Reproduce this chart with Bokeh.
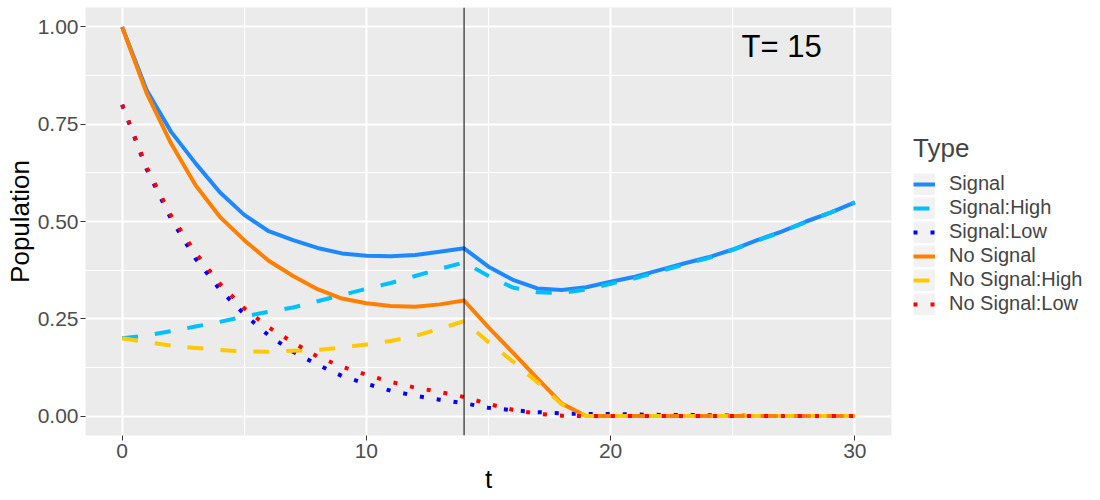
from bokeh.plotting import figure
from bokeh.models import Legend, LegendItem, Span, FixedTicker, Label
from bokeh.embed import file_html
from bokeh.resources import INLINE

# ---------------- data ----------------
t = list(range(31))

signal = [1.000, 0.838, 0.731, 0.650, 0.575, 0.517, 0.475, 0.452, 0.432, 0.418,
          0.412, 0.411, 0.414, 0.422, 0.431, 0.384, 0.350, 0.328, 0.324, 0.331,
          0.345, 0.358, 0.375, 0.392, 0.408, 0.428, 0.452, 0.474, 0.500, 0.523, 0.549]
signal_high = [0.200, 0.207, 0.218, 0.230, 0.242, 0.256, 0.268, 0.279, 0.295, 0.311,
               0.327, 0.342, 0.360, 0.378, 0.395, 0.360, 0.330, 0.318, 0.316, 0.325,
               0.340, 0.354, 0.372, 0.389, 0.406, 0.427, 0.451, 0.473, 0.499, 0.523, 0.549]
signal_low = [0.800, 0.635, 0.507, 0.405, 0.325, 0.262, 0.207, 0.165, 0.132, 0.103,
              0.083, 0.065, 0.052, 0.042, 0.033, 0.021, 0.015, 0.010, 0.007, 0.005,
              0.005, 0.004, 0.003, 0.003, 0.002, 0.001, 0.000, 0.000, 0.000, 0.000, 0.000]
no_signal = [1.000, 0.830, 0.701, 0.594, 0.512, 0.452, 0.399, 0.360, 0.326, 0.302,
             0.290, 0.283, 0.281, 0.287, 0.297, 0.228, 0.163, 0.097, 0.032, 0.000,
             0.000, 0.000, 0.000, 0.000, 0.000, 0.000, 0.000, 0.000, 0.000, 0.000, 0.000]
no_signal_high = [0.200, 0.190, 0.181, 0.175, 0.170, 0.166, 0.165, 0.168, 0.170, 0.176,
                  0.184, 0.193, 0.206, 0.224, 0.244, 0.190, 0.140, 0.087, 0.030, 0.000,
                  0.000, 0.000, 0.000, 0.000, 0.000, 0.000, 0.000, 0.000, 0.000, 0.000, 0.000]
no_signal_low = [0.800, 0.640, 0.515, 0.420, 0.340, 0.277, 0.228, 0.189, 0.153, 0.127,
                 0.106, 0.088, 0.073, 0.062, 0.049, 0.031, 0.016, 0.006, 0.001, 0.000,
                 0.000, 0.000, 0.000, 0.000, 0.000, 0.000, 0.000, 0.000, 0.000, 0.000, 0.000]

series_names = ["Signal", "Signal:High", "Signal:Low",
                "No Signal", "No Signal:High", "No Signal:Low"]
series_values = [signal, signal_high, signal_low, no_signal, no_signal_high, no_signal_low]
series_colors = ["#1E88FF", "#00BFFF", "#0000FF", "#FF8000", "#FFC800", "#FF0000"]
series_dash = ["solid", "16 17", "4 13", "solid", "16 17", "4 13"]

x_ticks = [0, 10, 20, 30]
x_tick_labels = ["0", "10", "20", "30"]
x_minor = [5, 15, 25]
y_ticks = [0.0, 0.25, 0.5, 0.75, 1.0]
y_tick_labels = ["0.00", "0.25", "0.50", "0.75", "1.00"]
y_minor = [0.125, 0.375, 0.625, 0.875]

vline_t = 14
annot_text = "T= 15"
annot_x, annot_y = 27, 0.95

FONT = "Liberation Sans"

# ---------------- figure ----------------
p = figure(frame_width=806, frame_height=428,
           x_range=(-1.5, 31.5), y_range=(-0.05, 1.05),
           output_backend="svg", toolbar_location=None,
           min_border_left=85, min_border_right=200,
           min_border_top=7, min_border_bottom=60,
           background_fill_color="#EBEBEB", border_fill_color="white",
           outline_line_color=None,
           x_axis_label="t", y_axis_label="Population")

p.xaxis.ticker = FixedTicker(ticks=x_ticks, minor_ticks=x_minor)
p.yaxis.ticker = FixedTicker(ticks=y_ticks, minor_ticks=y_minor)
p.xaxis.major_label_overrides = {v: s for v, s in zip(x_ticks, x_tick_labels)}
p.yaxis.major_label_overrides = {v: s for v, s in zip(y_ticks, y_tick_labels)}

for ax in (p.xaxis, p.yaxis):
    ax.axis_line_color = None
    ax.major_tick_line_color = "#333333"
    ax.major_tick_line_width = 1
    ax.major_tick_out = 5
    ax.major_tick_in = 0
    ax.minor_tick_line_color = None
    ax.major_label_text_font = FONT
    ax.major_label_text_font_size = "21px"
    ax.major_label_text_color = "#4D4D4D"
    ax.major_label_standoff = 3
    ax.axis_label_text_font = FONT
    ax.axis_label_text_font_size = "26px"
    ax.axis_label_text_font_style = "normal"
    ax.axis_label_text_color = "black"
p.xaxis.axis_label_standoff = 3
p.yaxis.axis_label_standoff = 0
p.yaxis.major_label_standoff = 2

for g in (p.xgrid, p.ygrid):
    g.grid_line_color = "white"
    g.grid_line_width = 2
    g.minor_grid_line_color = "white"
    g.minor_grid_line_width = 1

# legend key background: hidden renderer, drawn only in the legend
key_bg = p.line(t, signal, line_color="#F2F2F2", line_width=22, visible=False)

items = []
for name, vals, col, dash in zip(series_names, series_values, series_colors, series_dash):
    r = p.line(t, vals, line_color=col, line_width=4, line_dash=dash,
               line_join="round", line_cap="butt")
    items.append(LegendItem(label=name, renderers=[key_bg, r]))

p.add_layout(Span(location=vline_t, dimension="height",
                  line_color="black", line_width=1))

p.add_layout(Label(x=annot_x, y=annot_y, text=annot_text, text_font=FONT,
                   text_font_size="31px", text_align="center",
                   text_baseline="middle", text_color="black"))

legend = Legend(items=items, location=(22, 120), title="Type",
                title_text_font=FONT, title_text_font_size="26px",
                title_text_font_style="normal", title_standoff=8,
                label_text_font=FONT, label_text_font_size="20px",
                glyph_width=22, glyph_height=22, label_height=22,
                spacing=1, label_standoff=14, padding=4, margin=0,
                border_line_color=None, background_fill_alpha=0)
p.add_layout(legend, "right")

open("out.html", "w").write(file_html(p, INLINE))
